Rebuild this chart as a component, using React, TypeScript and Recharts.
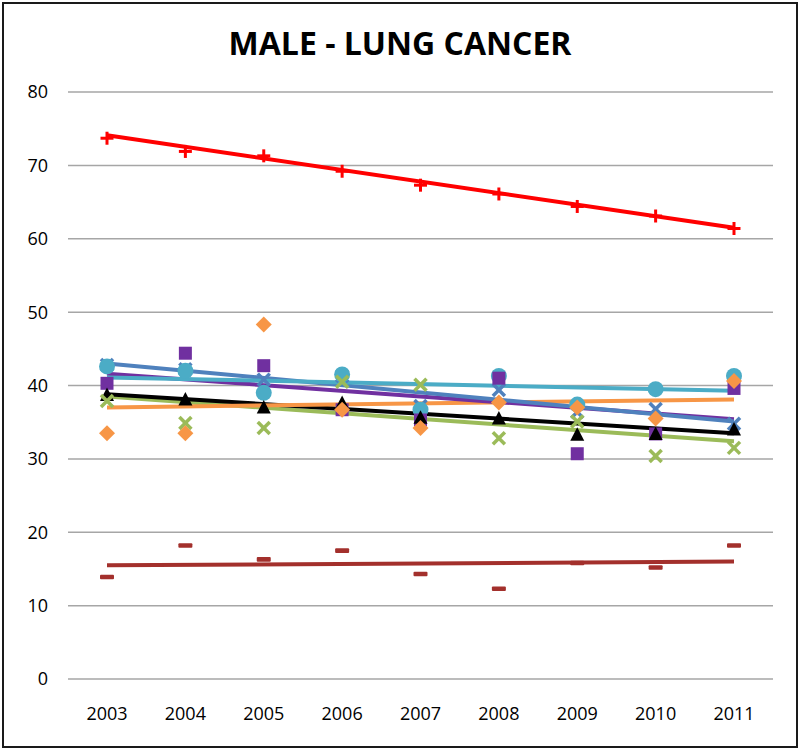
import React from "react";
import { LineChart, Line, XAxis, YAxis, CartesianGrid } from "recharts";

const years = ["2003", "2004", "2005", "2006", "2007", "2008", "2009", "2010", "2011"];
const yTicks = [0, 10, 20, 30, 40, 50, 60, 70, 80];

// marker values per series
const red = [73.7, 71.9, 71.3, 69.2, 67.3, 66.1, 64.4, 63.1, 61.4];
const brown = [13.9, 18.2, 16.3, 17.5, 14.3, 12.3, 15.8, 15.2, 18.2];
const purple = [40.3, 44.4, 42.7, 36.7, 35.3, 41.0, 30.7, 33.4, 39.6];
const orange = [33.5, 33.5, 48.3, 36.7, 34.2, 37.7, 37.0, 35.5, 40.6];
const cyan = [42.6, 42.0, 39.0, 41.5, 36.7, 41.3, 37.4, 39.5, 41.3];
const green = [37.9, 34.9, 34.2, 40.5, 40.1, 32.8, 35.1, 30.4, 31.5];
const black = [38.7, 38.1, 37.0, 37.6, 35.6, 35.5, 33.3, 33.4, 34.0];
const blue = [42.8, 42.2, 40.8, 41.3, 37.2, 39.4, 36.4, 36.8, 34.8];

// trend line values at 2003 and 2011
const redTrend = [74.1, 61.5];
const brownTrend = [15.5, 16.0];
const purpleTrend = [41.6, 35.4];
const orangeTrend = [37.0, 38.1];
const cyanTrend = [41.1, 39.3];
const greenTrend = [38.5, 32.4];
const blackTrend = [38.8, 33.5];
const blueTrend = [43.0, 35.1];

const last = years.length - 1;
const ends = (t: number[], i: number) => (i === 0 ? t[0] : i === last ? t[1] : null);

const data = years.map((year, i) => ({
  year,
  red: red[i],
  brown: brown[i],
  purple: purple[i],
  orange: orange[i],
  cyan: cyan[i],
  green: green[i],
  black: black[i],
  blue: blue[i],
  redT: ends(redTrend, i),
  brownT: ends(brownTrend, i),
  purpleT: ends(purpleTrend, i),
  orangeT: ends(orangeTrend, i),
  cyanT: ends(cyanTrend, i),
  greenT: ends(greenTrend, i),
  blackT: ends(blackTrend, i),
  blueT: ends(blueTrend, i),
}));

type Shape = "circle" | "square" | "diamond" | "triangle" | "x" | "plus" | "dash";

const makeDot = (shape: Shape, color: string) => (props: any) => {
  const { cx, cy, value, index } = props;
  const key = `${shape}-${color}-${index}`;
  if (cx == null || cy == null || value == null) return <g key={key} />;
  switch (shape) {
    case "circle":
      return <circle key={key} cx={cx} cy={cy} r={8} fill={color} />;
    case "square":
      return <rect key={key} x={cx - 6.5} y={cy - 6.5} width={13} height={13} fill={color} />;
    case "diamond":
      return (
        <polygon
          key={key}
          points={`${cx},${cy - 8} ${cx + 8},${cy} ${cx},${cy + 8} ${cx - 8},${cy}`}
          fill={color}
        />
      );
    case "triangle":
      return (
        <polygon
          key={key}
          points={`${cx},${cy - 7.5} ${cx + 7},${cy + 6} ${cx - 7},${cy + 6}`}
          fill={color}
        />
      );
    case "x":
      return (
        <g key={key} stroke={color} strokeWidth={3.5}>
          <line x1={cx - 6} y1={cy - 6} x2={cx + 6} y2={cy + 6} />
          <line x1={cx - 6} y1={cy + 6} x2={cx + 6} y2={cy - 6} />
        </g>
      );
    case "plus":
      return (
        <g key={key} stroke={color} strokeWidth={3}>
          <line x1={cx - 6.5} y1={cy} x2={cx + 6.5} y2={cy} />
          <line x1={cx} y1={cy - 6.5} x2={cx} y2={cy + 6.5} />
        </g>
      );
    case "dash":
      return <rect key={key} x={cx - 7} y={cy - 2.3} width={14} height={4.6} rx={1} fill={color} />;
  }
  return <g key={key} />;
};

const trends = [
  { key: "greenT", color: "#9BBB59" },
  { key: "blackT", color: "#000000" },
  { key: "orangeT", color: "#F79646" },
  { key: "purpleT", color: "#7030A0" },
  { key: "blueT", color: "#4F81BD" },
  { key: "cyanT", color: "#4BACC6" },
  { key: "brownT", color: "#A3302C" },
  { key: "redT", color: "#FF0000" },
];

const markers: { key: string; color: string; shape: Shape }[] = [
  { key: "blue", color: "#4F81BD", shape: "x" },
  { key: "cyan", color: "#4BACC6", shape: "circle" },
  { key: "purple", color: "#7030A0", shape: "square" },
  { key: "black", color: "#000000", shape: "triangle" },
  { key: "green", color: "#9BBB59", shape: "x" },
  { key: "orange", color: "#F79646", shape: "diamond" },
  { key: "brown", color: "#A3302C", shape: "dash" },
  { key: "red", color: "#FF0000", shape: "plus" },
];

const tickStyle = { fill: "#000", fontSize: 18, fontFamily: "'Open Sans', sans-serif" };

export default function App() {
  return (
    <div
      style={{
        position: "absolute",
        left: 0,
        top: 0,
        width: 800,
        height: 751,
        background: "#fff",
      }}
    >
      <div
        style={{
          position: "absolute",
          left: 2,
          top: 2,
          width: 796,
          height: 746,
          boxSizing: "border-box",
          border: "2px solid #1a1a1a",
        }}
      />
      <div
        style={{
          position: "absolute",
          left: 0,
          top: 27,
          width: 800,
          textAlign: "center",
          fontFamily: "'Open Sans', sans-serif",
          fontWeight: 700,
          fontSize: 32,
          lineHeight: "32px",
          color: "#000",
        }}
      >
        MALE - LUNG CANCER
      </div>
      <div style={{ position: "absolute", left: 0, top: 0 }}>
        <LineChart
          width={800}
          height={751}
          data={data}
          margin={{ top: 92, right: 27, bottom: 32, left: 0 }}
        >
          <CartesianGrid vertical={false} stroke="#A6A6A6" strokeWidth={1.5} />
          <XAxis
            dataKey="year"
            height={40}
            axisLine={false}
            tickLine={false}
            tickMargin={22}
            padding={{ left: 39, right: 39 }}
            tick={tickStyle}
            interval={0}
          />
          <YAxis
            width={68}
            domain={[0, 80]}
            ticks={yTicks}
            axisLine={false}
            tickLine={false}
            tickMargin={14}
            tick={tickStyle}
          />
          {trends.map((t) => (
            <Line
              key={t.key}
              dataKey={t.key}
              stroke={t.color}
              strokeWidth={4}
              dot={false}
              activeDot={false}
              connectNulls
              isAnimationActive={false}
            />
          ))}
          {markers.map((m) => (
            <Line
              key={m.key}
              dataKey={m.key}
              stroke="none"
              dot={makeDot(m.shape, m.color)}
              activeDot={false}
              isAnimationActive={false}
            />
          ))}
        </LineChart>
      </div>
    </div>
  );
}
